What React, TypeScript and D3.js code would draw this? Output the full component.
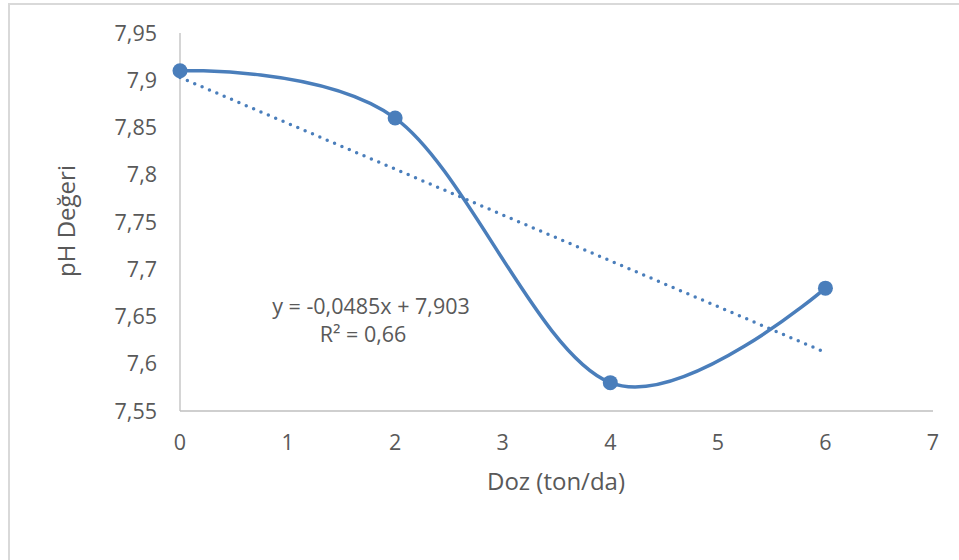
import React from "react";
import * as d3 from "d3";

const doses = [0, 2, 4, 6];
const phValues = [7.91, 7.86, 7.58, 7.68];
const xTicks = [0, 1, 2, 3, 4, 5, 6, 7];
const yTicks = [7.55, 7.6, 7.65, 7.7, 7.75, 7.8, 7.85, 7.9, 7.95];
const trendSlope = -0.0485;
const trendIntercept = 7.903;
const trendDomain = [0, 6];
const equationLines = ["y = -0,0485x + 7,903", "R² = 0,66"];

const W = 959;
const H = 560;
const FONT = "'Open Sans', Lato, sans-serif";
const BLUE = "#4a7ebb";
const TEXT = "#595959";

export default function App() {
  const x = d3.scaleLinear().domain([0, 7]).range([180, 933]);
  const y = d3.scaleLinear().domain([7.55, 7.95]).range([411, 33]);
  const fmt = (v: number) => String(+v.toFixed(2)).replace(".", ",");

  const pts: [number, number][] = doses.map((d, i) => [x(d), y(phValues[i])]);
  const line = d3.line().curve(d3.curveCardinal.tension(0))(pts) || "";
  const trend = d3.line()(trendDomain.map((d) => [x(d), y(trendIntercept + trendSlope * d)] as [number, number])) || "";

  return (
    <svg width={W} height={H} style={{ position: "absolute", left: 0, top: 0, background: "#fff" }}>
      <rect x={9} y={4} width={W + 10} height={H + 10} fill="#fff" stroke="#d9d9d9" strokeWidth={2} />
      <line x1={x(0)} x2={x(0)} y1={y(7.95)} y2={y(7.55)} stroke="#bfbfbf" strokeWidth={1.3} />
      <line x1={x(0)} x2={x(7)} y1={y(7.55)} y2={y(7.55)} stroke="#bfbfbf" strokeWidth={1.3} />
      {yTicks.map((t) => (
        <text key={"y" + t} x={157} y={y(t)} dy="0.35em" textAnchor="end" fontFamily={FONT} fontSize={21.5} fill={TEXT}>
          {fmt(t)}
        </text>
      ))}
      {xTicks.map((t) => (
        <text key={"x" + t} x={x(t)} y={442} dy="0.35em" textAnchor="middle" fontFamily={FONT} fontSize={21.5} fill={TEXT}>
          {t}
        </text>
      ))}
      <text x={556} y={482} dy="0.35em" textAnchor="middle" fontFamily={FONT} fontSize={24} fill={TEXT}>
        Doz (ton/da)
      </text>
      <text transform={`translate(67,221) rotate(-90)`} dy="0.35em" textAnchor="middle" fontFamily={FONT} fontSize={24} fill={TEXT}>
        pH Değeri
      </text>
      <path d={trend} fill="none" stroke={BLUE} strokeWidth={3.5} strokeLinecap="round" strokeDasharray="0 8" />
      <path d={line} fill="none" stroke={BLUE} strokeWidth={3.5} />
      {pts.map((p, i) => (
        <circle key={i} cx={p[0]} cy={p[1]} r={7.5} fill={BLUE} />
      ))}
      {equationLines.map((s, i) => (
        <text key={s} x={i === 0 ? 371 : 363} y={306 + i * 28} dy="0.35em" textAnchor="middle" fontFamily={FONT} fontSize={21.5} fill={TEXT}>
          {s}
        </text>
      ))}
    </svg>
  );
}
